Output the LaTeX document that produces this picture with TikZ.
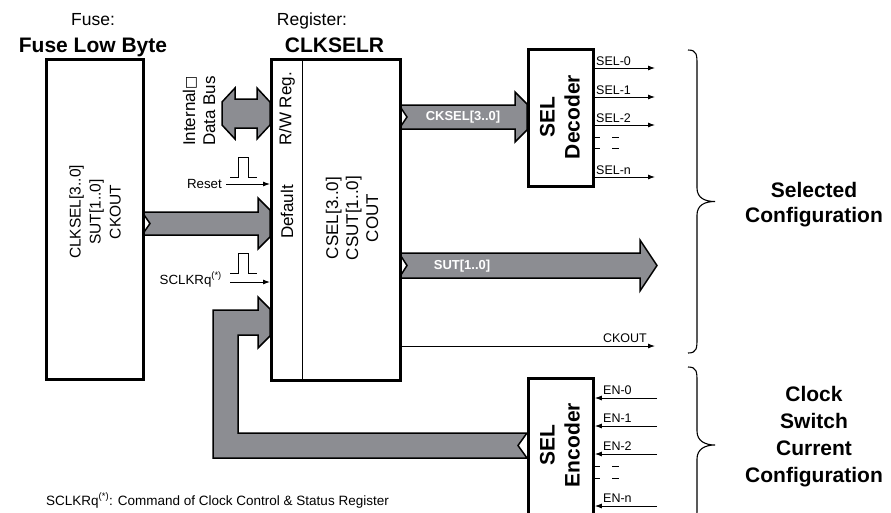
\documentclass[tikz,border=0pt]{standalone}
\usepackage{fontspec}
\setmainfont{Liberation Sans}
\newfontfamily\dejavu{DejaVu Sans}
\usetikzlibrary{arrows.meta}
\definecolor{busgray}{RGB}{140,141,146}
\tikzset{
  box/.style={draw, line width=2.8pt, fill=white, inner sep=0pt, anchor=north west},
  bus/.style={draw, line width=1.5pt, fill=busgray, line join=miter},
  sig/.style={line width=0.9pt, -{Latex[length=7pt,width=5pt]}},
  thin/.style={line width=0.9pt},
  lbl/.style={font=\fontsize{12.5}{14}\selectfont, inner sep=0pt},
  inlbl/.style={font=\fontsize{13.3}{15}\selectfont, inner sep=0pt},
  buslbl/.style={font=\bfseries\fontsize{13}{15}\selectfont, text=white, inner sep=0pt},
  head/.style={font=\bfseries\fontsize{21}{25}\selectfont, inner sep=0pt},
  sub/.style={font=\fontsize{17.5}{20}\selectfont, inner sep=0pt},
  rtxt/.style={rotate=90, align=center, inner sep=0pt, font=\fontsize{17}{20}\selectfont},
  brace/.style={line width=1.1pt}
}
\begin{document}
\begin{tikzpicture}[x=1pt,y=-1pt]
\path[use as bounding box, clip] (0,0) rectangle (891,512);

% ---------- buses ----------
% fuse -> register
\path[bus] (142,212) -- (258,212) -- (258,198) -- (270,210) -- (270,237) -- (258,249) -- (258,235) -- (142,235) -- (150,223.5) -- cycle;
% internal data bus (double)
\path[bus] (235,99) -- (235,88) -- (222,102) -- (222,125) -- (235,139) -- (235,128) -- (257,128) -- (257,139) -- (270,125) -- (270,102) -- (257,88) -- (257,99) -- cycle;
% CKSEL bus
\path[bus] (399,105) -- (515,105) -- (515,92) -- (527,104) -- (527,130) -- (515,142) -- (515,129) -- (399,129) -- (407,117) -- cycle;
% SUT bus
\path[bus] (399,253) -- (640,253) -- (640,240) -- (657,265.5) -- (640,291) -- (640,278) -- (399,278) -- (407,265.5) -- cycle;
% feedback bus from encoder
\path[bus] (527,433) -- (238,433) -- (238,335) -- (258,335) -- (258,348) -- (270,336) -- (270,309) -- (258,297) -- (258,310) -- (213,310) -- (213,458) -- (527,458) -- (518,445.5) -- cycle;

% ---------- boxes ----------
\node[box, minimum width=97pt, minimum height=320pt] (fuse) at (45,58) {};
\node[box, minimum width=129pt, minimum height=321pt] (reg) at (270,58) {};
\node[box, minimum width=65pt, minimum height=137pt] (dec) at (527,48) {};
\node[box, minimum width=65pt, minimum height=150pt] (enc) at (527,377) {};
\coordinate (div) at (302,0);
\draw[thin] (reg.north -| div) -- (reg.south -| div);

% ---------- titles ----------
\node[sub, anchor=base] (fuset) at (93,25) {Fuse:};
\node[head, anchor=base] (fuseh) at (93,52) {Fuse Low Byte};
\node[sub, anchor=base] (regt) at (312,25) {Register:};
\node[head, anchor=base] (regh) at (334.5,52) {CLKSELR};

% ---------- box texts ----------
\node[rtxt, font=\fontsize{15.5}{20}\selectfont] (fusetxt) at (95,212) {CLKSEL[3..0]\\SUT[1..0]\\CKOUT};
\node[rtxt] (idb) at (199,111) {Internal{\dejavu\fontsize{14}{16}\selectfont □}\\Data Bus};
\node[rtxt] (rw) at (287,109) {R/W Reg.};
\node[rtxt] (dflt) at (287,212) {Default};
\node[rtxt] (csel) at (352,218) {CSEL[3..0]\\CSUT[1..0]\\COUT};
\node[rtxt, font=\bfseries\fontsize{21}{25}\selectfont] (dect) at (560,117) {SEL\\Decoder};
\node[rtxt, font=\bfseries\fontsize{21}{25}\selectfont] (enct) at (560,445) {SEL\\Encoder};

\node[buslbl] (ckselL) at (463,117) {CKSEL[3..0]};
\node[buslbl] (sutL) at (462,266) {SUT[1..0]};

% ---------- reset / sclkrq ----------
\node[inlbl, anchor=base east] (rst) at (222,188) {Reset};
\coordinate (rsS) at (226,184);
\draw[sig] (rsS) -- (rsS -| reg.west);
\draw[thin] (230,177) -- (238,177) -- (238,157) -- (248,157) -- (248,177) -- (257,177);

\node[inlbl, anchor=base east] (sclk) at (222,284) {SCLKRq\textsuperscript{(*)}};
\coordinate (scS) at (230,282);
\draw[sig] (scS) -- (scS -| reg.west);
\draw[thin] (230,273) -- (238,273) -- (238,253) -- (248,253) -- (248,273) -- (257,273);

% ---------- CKOUT ----------
\coordinate (ckE) at (655,346);
\draw[sig] (ckE -| reg.east) -- (ckE);
\node[lbl, anchor=base east] (ckL) at (647,342) {CKOUT};

% ---------- decoder outputs ----------
\foreach \n/\yy/\t in {s0/68/SEL-0, s1/97/SEL-1, s2/125/SEL-2, sn/177/SEL-n}{
  \coordinate (\n) at (655,\yy);
  \draw[sig] (\n -| dec.east) -- (\n);
  \node[lbl, anchor=base west] (\n L) at (596,\yy-3) {\t};
}
\foreach \yy in {137,148}{
  \draw[thin] (594,\yy) -- (600,\yy);
  \draw[thin] (612,\yy) -- (619,\yy);
}

% ---------- encoder inputs ----------
\foreach \n/\yy/\t in {e0/398/EN-0, e1/426/EN-1, e2/454/EN-2, en/506/EN-n}{
  \coordinate (\n) at (657,\yy);
  \draw[sig] (\n) -- (\n -| enc.east);
  \node[lbl, anchor=base west] (\n L) at (603,\yy-4) {\t};
}
\foreach \yy in {466,478}{
  \draw[thin] (594,\yy) -- (600,\yy);
  \draw[thin] (612,\yy) -- (619,\yy);
}

% ---------- braces ----------
\draw[brace] (688,50) .. controls (697,50) and (697,55) .. (697,65) -- (697,188)
  .. controls (697,198) and (705,201.5) .. (715,201.5)
  .. controls (705,201.5) and (697,205) .. (697,215) -- (697,338)
  .. controls (697,348) and (697,353) .. (688,353);
\draw[brace] (688,367) .. controls (697,367) and (697,372) .. (697,382) -- (697,431)
  .. controls (697,441) and (705,445) .. (715,445)
  .. controls (705,445) and (697,449) .. (697,459) -- (697,508)
  .. controls (697,518) and (697,523) .. (688,523);

\node[align=center, inner sep=0pt, font=\bfseries\fontsize{21}{25}\selectfont] (selcfg) at (814,205) {Selected\\Configuration};
\node[align=center, inner sep=0pt, font=\bfseries\fontsize{21}{27}\selectfont] (curcfg) at (814,437) {Clock\\Switch\\Current\\Configuration};

% ---------- footnote ----------
\node[anchor=base west, inner sep=0pt, font=\fontsize{13.5}{15}\selectfont] (fn) at (46,505) {SCLKRq\textsuperscript{(*)}: Command of Clock Control \& Status Register};
\end{tikzpicture}
\end{document}
